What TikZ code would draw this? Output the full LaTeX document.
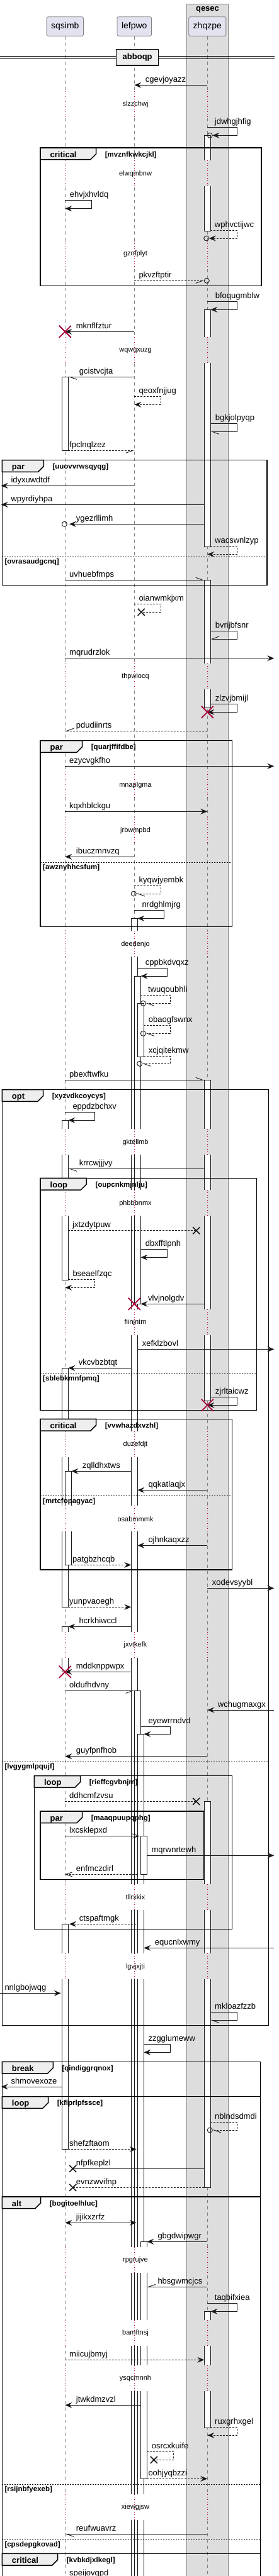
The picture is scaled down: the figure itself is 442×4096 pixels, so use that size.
\documentclass[tikz,border=0pt]{standalone}
\usepackage{fontspec}
\setmainfont{Liberation Sans}
\usetikzlibrary{arrows.meta, calc}

\definecolor{partfill}{HTML}{E2E2F0}
\definecolor{boxfill}{HTML}{DDDDDD}
\definecolor{tabfill}{HTML}{EEEEEE}
\definecolor{delayred}{HTML}{A80036}
\definecolor{ink}{HTML}{181818}
\definecolor{lifegray}{HTML}{808080}

% messages and marks on the lifelines: participant, x offset, y
\newcommand{\msgline}[6][]{\draw[msg,#1] ($(#2|-0,#6)+(#3,0)$) -- ($(#4|-0,#6)+(#5,0)$);}
\newcommand{\selfmsg}[7][]{\draw[msg,#1] ($(#2|-0,#5)+(#3,0)$) -- ++(#7,0) |- ($(#2|-0,#6)+(#4,0)$);}
\newcommand{\actbox}[4]{\draw[actbox] ($(#1|-0,#3)+(#2,0)$) rectangle ($(#1|-0,#4)+(#2+10,0)$);}
\newcommand{\tipcross}[3]{\draw[endx] ($(#1|-0,#3)+(#2-5.5,-5.5)$) -- ++(11,11) ($(#1|-0,#3)+(#2-5.5,5.5)$) -- ++(11,-11);}
\newcommand{\tipkill}[3]{\draw[destroy] ($(#1|-0,#3)+(#2-9.5,-9.5)$) -- ++(19,19) ($(#1|-0,#3)+(#2-9.5,9.5)$) -- ++(19,-19);}
\newcommand{\tipcirc}[3]{\draw[endo] ($(#1|-0,#3)+(#2,0)$) circle[radius=4pt];}
\newcommand{\mlabel}[3]{\node[lbl] (#3) at (#1,#2) {#3};}
\newcommand{\sdgroup}[7]{%
  \draw[frame] (#1,#2) rectangle (#3,#4);
  \draw[tab] (#1,#2) -- (#5,#2) -- (#5,#2+9.7) -- (#5-9,#2+18.7) -- (#1,#2+18.7) -- cycle;
  \node[tablbl] (#7-tab) at (#1+15.5,#2+15) {#6};
  \node[guard] (#7) at (#5+14,#2+14) {[#7]};}
\newcommand{\sdelse}[4]{%
  \draw[elsesep] (#1,#3) -- (#2,#3);
  \node[guard] (#4) at (#1+4,#3+11.5) {[#4]};}

\begin{document}
\begin{tikzpicture}[
        x=1pt, y=-1pt,
        font=\fontsize{13}{15}\selectfont,
        part/.style={draw=lifegray, fill=partfill, rounded corners=2.5pt, line width=0.8pt,
            minimum height=30.6pt, inner xsep=7pt, font=\fontsize{14}{16}\selectfont},
        lifeline/.style={lifegray, line width=0.7pt, dash pattern=on 5pt off 5pt},
        delayline/.style={delayred, line width=0.8pt, dash pattern=on 0.9pt off 3.1pt},
        actbox/.style={draw=ink, fill=white, line width=0.8pt},
        msg/.style={draw=ink, line width=0.9pt},
        ret/.style={dash pattern=on 3pt off 2pt},
        tipS/.style={-{Stealth[length=11pt, width=9pt, inset=4pt]}},
        tipSS/.style={{Stealth[length=11pt, width=9pt, inset=4pt]}-{Stealth[length=11pt, width=9pt, inset=4pt]}},
        tipO/.style={-{Straight Barb[length=10pt, width=7pt]}},
        halfl/.style={-{Straight Barb[harpoon, length=11pt, width=8pt]}},
        halfr/.style={-{Straight Barb[harpoon, swap, length=11pt, width=8pt]}},
        endx/.style={draw=ink, line width=1.6pt},
        destroy/.style={draw=delayred, line width=1.8pt},
        endo/.style={draw=ink, line width=0.9pt},
        frame/.style={draw=black, line width=1.5pt},
        tab/.style={draw=black, fill=tabfill, line width=1.5pt},
        tablbl/.style={anchor=base west, inner sep=0pt, font=\bfseries\fontsize{13}{15}\selectfont},
        guard/.style={anchor=base west, inner sep=0pt, font=\bfseries\fontsize{11.5}{13}\selectfont},
        elsesep/.style={draw=black, line width=0.8pt, dash pattern=on 2pt off 2pt},
        lbl/.style={anchor=base west, inner sep=0pt},
        delaytxt/.style={inner sep=0pt, font=\fontsize{11}{13}\selectfont},
        divbox/.style={draw=black, fill=tabfill, line width=1.5pt, minimum width=67pt,
            minimum height=25.7pt, inner sep=0pt, font=\bfseries\fontsize{13}{15}\selectfont}
    ]
    \fill[white] (0,0) rectangle (442,4096);
    \useasboundingbox (0,0) rectangle (442,4096);

    \draw[fill=boxfill, draw=lifegray, line width=0.8pt] (296.7,6) rectangle (362.3,4110);
    \node[font=\bfseries\fontsize{13}{15}\selectfont, inner sep=0pt] (qesec) at (329.5,15.5) {qesec};

    \node[part] (sqsimb) at (103.3,42) {sqsimb};
    \node[part] (lefpwo) at (213.3,42) {lefpwo};
    \node[part] (zhqzpe) at (329.3,42) {zhqzpe};
    \coordinate (leftedge) at (1.7,0);
    \coordinate (rightedge) at (435.3,0);

    \foreach \who in {sqsimb, lefpwo, zhqzpe}
        \draw[lifeline] (\who.south) -- (\who|-0,4096);

    \draw[line width=1pt] (0,89.7) -- (435.7,89.7) (0,93) -- (435.7,93);
    \node[divbox] (abboqp) at (218.2,91.2) {abboqp};

    % activations
    \actbox{sqsimb}{-5}{599.3}{716.3}
    \actbox{sqsimb}{-5}{1781.3}{2035}
    \actbox{sqsimb}{-5}{2175.3}{2555.3}
    \actbox{sqsimb}{0}{2339.3}{2488.3}
    \actbox{sqsimb}{-5}{2586.3}{2658.3}
    \actbox{sqsimb}{-5}{3059.3}{3417.3}
    \actbox{lefpwo}{-5}{1460.3}{4110}
    \actbox{lefpwo}{0}{1552}{2073.3}
    \actbox{lefpwo}{5}{1595.3}{1680.3}
    \actbox{lefpwo}{0}{2688.3}{4110}
    \actbox{lefpwo}{5}{2757.3}{4110}
    \actbox{lefpwo}{10}{2919.3}{2980.3}
    \actbox{lefpwo}{10}{3564.3}{3941.3}
    \actbox{zhqzpe}{-5}{215.3}{367}
    \actbox{zhqzpe}{-5}{492.3}{869}
    \actbox{zhqzpe}{-5}{922.3}{1125.3}
    \actbox{zhqzpe}{-5}{1717.3}{2227}
    \actbox{zhqzpe}{-5}{2864.3}{3478.3}
    \actbox{zhqzpe}{-5}{3675.3}{3860.3}

    % delays
    \foreach \yy/\txt in {165.7/slzzchwj, 276.3/elwqmbnw, 404/gznfplyt, 557.3/wqwqxuzg,
            1076/thpwiocq, 1248.3/mnaplgma, 1320.3/jrbwmpbd, 1501.3/deedenjo,
            1816.3/gktellmb, 1913.3/phbbbnmx, 2103/fiinjntm, 2297/duzefdjt,
            2415.3/osabmmmk, 2615.7/jxvtkefk, 3017/tllrxkix, 3127.3/lgvjxjti,
            3594/rpgrujve, 3710/bamftnsj, 3782/ysqcmnnh, 3987/xiewgjsw} {
        \fill[white] ($(sqsimb|-0,\yy)+(-11,-21)$) rectangle ($(sqsimb|-0,\yy)+(11,20)$);
        \fill[white] ($(lefpwo|-0,\yy)+(-7,-21)$) rectangle ($(lefpwo|-0,\yy)+(22,20)$);
        \fill[boxfill] ($(zhqzpe|-0,\yy)+(-7,-21)$) rectangle ($(zhqzpe|-0,\yy)+(7,20)$);
        \foreach \who in {sqsimb, lefpwo, zhqzpe}
            \draw[delayline] ($(\who|-0,\yy)+(0,-21)$) -- ($(\who|-0,\yy)+(0,20)$);
        \node[delaytxt] (\txt) at ($(lefpwo|-0,\yy)+(1.7,0)$) {\txt};
    }

    % groups
    \sdgroup{64}{235}{415}{454.7}{152.7}{critical}{mvznfkwkcjkl}
    \sdgroup{3.3}{731.7}{424}{930.7}{69.3}{par}{uuovvrwsqyqg}
    \sdelse{3.3}{424}{885.3}{ovrasaudgcnq}
    \sdgroup{64}{1177.7}{368.7}{1473.3}{130.7}{par}{quarjffifdbe}
    \sdelse{64}{368.7}{1371.3}{awznyhhcsfum}
    \sdgroup{3.3}{1732.7}{426.7}{3220.7}{68.7}{opt}{xyzvdkcoycys}
    \sdelse{3.3}{426.7}{2801.3}{lvgygmlpqujf}
    \sdgroup{64}{1873.3}{407.3}{2242.7}{137.3}{loop}{oupcnkmjnlju}
    \sdelse{64}{407.3}{2184.3}{sblebkmnfpmq}
    \sdgroup{64}{2256.3}{368.7}{2496}{152.7}{critical}{vvwhazdxvzhl}
    \sdelse{64}{368.7}{2378.7}{mrtcfopagyac}
    \sdgroup{54.3}{2823.7}{368.7}{3067.7}{127.7}{loop}{rieffcgvbnjm}
    \sdgroup{64}{2880}{323.7}{2988.7}{130.7}{par}{maaqpuupqphg}
    \sdgroup{3.3}{3278.3}{413.3}{3333.7}{84.3}{break}{qindiggrqnox}
    \sdgroup{3.3}{3333.7}{413.3}{3493}{76.7}{loop}{kflprlpfssce}
    \sdgroup{3.3}{3493}{413.3}{4060.3}{64.7}{alt}{bogitoelhluc}
    \sdelse{3.3}{413.3}{3950.3}{rsijnbfyexeb}
    \sdelse{3.3}{413.3}{4038.3}{cpsdepgkovad}
    \sdgroup{3.3}{4060.3}{413.3}{4110}{91.7}{critical}{kvbkdjxlkegl}

    % messages
    \msgline[tipS]{zhqzpe}{0}{lefpwo}{0}{135.3}
    \mlabel{230.7}{130.3}{cgevjoyazz}
    \selfmsg[tipS]{zhqzpe}{0}{8}{202.3}{215.3}{47.4}
    \tipcirc{zhqzpe}{4}{215.3}
    \mlabel{340.7}{197.3}{jdwhgjhfig}
    \selfmsg[tipS]{sqsimb}{0}{0}{318.3}{331.7}{42.4}
    \mlabel{110.7}{313.3}{ehvjxhvldq}
    \selfmsg[ret,tipS]{zhqzpe}{5}{2.4}{366}{379}{42.4}
    \tipcirc{zhqzpe}{-1.6}{379}
    \mlabel{340.7}{361}{wphvctijwc}
    \msgline[ret,halfr]{lefpwo}{0}{zhqzpe}{-5}{446.3}
    \tipcirc{zhqzpe}{-1}{446.3}
    \mlabel{220.3}{441.3}{pkvzftptir}
    \selfmsg[tipS]{zhqzpe}{0}{5}{479.3}{492.3}{47.4}
    \mlabel{341.7}{474.3}{bfoqugmblw}
    \msgline[tipS]{lefpwo}{0}{sqsimb}{0}{527.3}
    \tipkill{sqsimb}{0}{527.3}
    \mlabel{120.7}{522.3}{mknflfztur}
    \msgline[halfl]{lefpwo}{0}{sqsimb}{5}{599.3}
    \mlabel{125.7}{594.3}{gcistvcjta}
    \selfmsg[ret,tipS]{lefpwo}{0}{0}{630.3}{643.3}{42}
    \mlabel{220.3}{625.3}{qeoxfnjjug}
    \selfmsg[halfl]{zhqzpe}{5}{5}{673.3}{686.3}{42.4}
    \mlabel{341.7}{668.3}{bgkjolpyqp}
    \msgline[ret,halfr]{sqsimb}{5}{lefpwo}{0}{716.3}
    \mlabel{110}{711.3}{fpclnqlzez}
    \msgline[tipS]{lefpwo}{0}{leftedge}{0}{772.3}
    \mlabel{17.3}{767.3}{idyxuwdtdf}
    \msgline[tipS]{zhqzpe}{-5}{leftedge}{0}{802.3}
    \mlabel{17.3}{797.3}{wpyrdiyhpa}
    \msgline[tipS]{zhqzpe}{-5}{sqsimb}{6.7}{833.3}
    \tipcirc{sqsimb}{-1}{833.3}
    \mlabel{120.7}{828.3}{ygezrllimh}
    \selfmsg[ret,tipS]{zhqzpe}{5}{0}{868.3}{881.3}{42.4}
    \mlabel{341}{863.3}{wacswnlzyp}
    \msgline[halfl]{sqsimb}{0}{zhqzpe}{-5}{922.3}
    \mlabel{110}{917.3}{uvhuebfmps}
    \selfmsg[ret]{lefpwo}{0}{11}{960.3}{973.3}{42}
    \tipcross{lefpwo}{11}{973.3}
    \mlabel{220.3}{955.3}{oianwmkjxm}
    \selfmsg[halfr]{zhqzpe}{5}{5}{1003.7}{1016}{42.4}
    \mlabel{341.7}{998.7}{bvrijbfsnr}
    \msgline[tipS]{sqsimb}{0}{rightedge}{0}{1046.7}
    \mlabel{110}{1041.7}{mqrudrzlok}
    \selfmsg[tipS]{zhqzpe}{5}{0}{1119.7}{1132.3}{42.4}
    \tipkill{zhqzpe}{0}{1132.3}
    \mlabel{341.7}{1114.7}{zlzvjbmijl}
    \msgline[ret,halfr]{zhqzpe}{0}{sqsimb}{0}{1162.3}
    \mlabel{120.7}{1157.3}{pdudiinrts}
    \msgline[tipS]{sqsimb}{0}{rightedge}{0}{1218.3}
    \mlabel{110}{1213.3}{ezycvgkfho}
    \msgline[tipS]{sqsimb}{0}{zhqzpe}{0}{1290.3}
    \mlabel{110}{1285.3}{kqxhblckgu}
    \msgline[tipS]{lefpwo}{0}{sqsimb}{0}{1362.3}
    \mlabel{120.7}{1357.3}{ibuczmnvzq}
    \selfmsg[ret,halfl]{lefpwo}{0}{3}{1408.3}{1421}{42}
    \tipcirc{lefpwo}{-1}{1421}
    \mlabel{220.3}{1403.3}{kyqwjyembk}
    \selfmsg[tipS]{lefpwo}{0}{5}{1447.3}{1460.3}{47}
    \mlabel{225.3}{1442.3}{nrdghlmjrg}
    \selfmsg[tipS]{lefpwo}{5}{10}{1539.7}{1552}{47}
    \mlabel{230.7}{1534.7}{cppbkdvqxz}
    \selfmsg[ret,halfl]{lefpwo}{10}{18}{1582.3}{1595.3}{47}
    \tipcirc{lefpwo}{14}{1595.3}
    \mlabel{235}{1577.3}{twuqoubhli}
    \selfmsg[ret,halfl]{lefpwo}{15}{18}{1630.3}{1643.3}{42}
    \tipcirc{lefpwo}{14}{1643.3}
    \mlabel{235.7}{1625.3}{obaogfswnx}
    \selfmsg[ret,halfl]{lefpwo}{15}{12.4}{1679.7}{1691.3}{42}
    \tipcirc{lefpwo}{8.4}{1691.3}
    \mlabel{235.7}{1674.7}{xcjqitekmw}
    \msgline[halfl]{sqsimb}{0}{zhqzpe}{-5}{1717.3}
    \mlabel{110}{1712.3}{pbexftwfku}
    \selfmsg[tipS]{sqsimb}{0}{5}{1768.7}{1781.3}{47.4}
    \mlabel{115.3}{1763.7}{eppdzbchxv}
    \msgline[halfl]{zhqzpe}{-5}{sqsimb}{5}{1858.3}
    \mlabel{125.7}{1853.3}{krrcwjjjvy}
    \msgline[ret]{sqsimb}{5}{zhqzpe}{-17.6}{1956.7}
    \tipcross{zhqzpe}{-17.6}{1956.7}
    \mlabel{115}{1951.7}{jxtzdytpuw}
    \selfmsg[tipS]{lefpwo}{10}{10}{1986.7}{1999.3}{42}
    \mlabel{230.7}{1981.7}{dbxfftlpnh}
    \selfmsg[ret,tipS]{sqsimb}{5}{0}{2034.3}{2047.3}{42.4}
    \mlabel{115.3}{2029.3}{bseaelfzqc}
    \msgline[tipS]{zhqzpe}{-5}{lefpwo}{10}{2073.3}
    \tipkill{lefpwo}{0}{2073.3}
    \mlabel{235}{2068.3}{vlvjnolgdv}
    \msgline[tipS]{lefpwo}{5}{rightedge}{0}{2145.3}
    \mlabel{225.7}{2140.3}{xefklzbovl}
    \msgline[tipS]{lefpwo}{-5}{sqsimb}{5}{2175.3}
    \mlabel{124.7}{2170.3}{vkcvbzbtqt}
    \selfmsg[tipS]{zhqzpe}{5}{0}{2221.7}{2234.3}{42.4}
    \tipkill{zhqzpe}{0}{2234.3}
    \mlabel{341.7}{2216.7}{zjrltaicwz}
    \msgline[tipS]{lefpwo}{-5}{sqsimb}{10}{2339.3}
    \mlabel{130.7}{2334.3}{zqlldhxtws}
    \msgline[tipS]{zhqzpe}{0}{lefpwo}{5}{2369.3}
    \mlabel{235.3}{2364.3}{qqkatlaqjx}
    \msgline[tipS]{zhqzpe}{0}{lefpwo}{5}{2457.3}
    \mlabel{235.3}{2452.3}{ojhnkaqxzz}
    \msgline[ret,tipS]{sqsimb}{10}{lefpwo}{-5}{2488.3}
    \mlabel{115}{2483.3}{patgbzhcqb}
    \msgline[tipS]{zhqzpe}{0}{rightedge}{0}{2525.3}
    \mlabel{336.7}{2520.3}{xodevsyybl}
    \msgline[ret,tipS]{sqsimb}{5}{lefpwo}{-5}{2555.3}
    \mlabel{110}{2550.3}{yunpvaoegh}
    \msgline[tipS]{lefpwo}{-5}{sqsimb}{5}{2586.3}
    \mlabel{125.3}{2581.3}{hcrkhiwccl}
    \msgline[tipS]{lefpwo}{-5}{sqsimb}{0}{2658.3}
    \tipkill{sqsimb}{0}{2658.3}
    \mlabel{120.7}{2653.3}{mddknppwpx}
    \msgline[halfr]{sqsimb}{0}{lefpwo}{0}{2688.3}
    \mlabel{110}{2683.3}{oldufhdvny}
    \msgline[tipS]{rightedge}{0}{zhqzpe}{0}{2719}
    \mlabel{345.7}{2714}{wchugmaxgx}
    \selfmsg[tipS]{lefpwo}{10}{15}{2745}{2757.3}{47}
    \mlabel{235.3}{2740}{eyewrrndvd}
    \msgline[tipS]{zhqzpe}{0}{sqsimb}{0}{2792.7}
    \mlabel{120.7}{2787.7}{guyfpnfhob}
    \msgline[ret]{sqsimb}{0}{zhqzpe}{-17.6}{2864.3}
    \tipcross{zhqzpe}{-17.6}{2864.3}
    \mlabel{110}{2859.3}{ddhcmfzvsu}
    \msgline[tipO]{sqsimb}{0}{lefpwo}{8.4}{2919.3}
    \mlabel{110}{2914.3}{lxcsklepxd}
    \msgline[tipS]{lefpwo}{20}{rightedge}{0}{2950.3}
    \mlabel{240.3}{2945.3}{mqrwnrtewh}
    \msgline[ret,tipO]{lefpwo}{5}{sqsimb}{0}{2980.3}
    \mlabel{120.7}{2975.3}{enfmczdirl}
    \msgline[ret,tipS]{lefpwo}{2.7}{sqsimb}{6.7}{3059.3}
    \mlabel{125.7}{3054.3}{ctspaftmgk}
    \msgline[tipS]{rightedge}{0}{lefpwo}{15}{3097.3}
    \mlabel{245.7}{3092.3}{equcnlxwmy}
    \msgline[tipS]{leftedge}{-1.7}{sqsimb}{-6.6}{3169.3}
    \mlabel{7.3}{3164.3}{nnlgbojwqg}
    \selfmsg[halfl]{zhqzpe}{5}{5}{3199.7}{3212.3}{42.4}
    \mlabel{341}{3194.7}{mkloazfzzb}
    \selfmsg[tipS]{lefpwo}{15}{15}{3250.3}{3263.3}{42}
    \mlabel{235.3}{3245.3}{zzgglumeww}
    \msgline[tipS]{sqsimb}{-5}{leftedge}{0}{3318}
    \mlabel{17.3}{3313}{shmovexoze}
    \selfmsg[ret,halfl]{zhqzpe}{5}{8}{3374}{3387}{42.4}
    \tipcirc{zhqzpe}{4}{3387}
    \mlabel{341}{3369}{nblndsdmdi}
    \msgline[ret,tipS]{sqsimb}{5}{lefpwo}{3.4}{3417.3}
    \mlabel{110}{3412.3}{shefzftaom}
    \msgline{zhqzpe}{-5}{sqsimb}{12.4}{3448.3}
    \tipcross{sqsimb}{12.4}{3448.3}
    \mlabel{120.7}{3443.3}{nfpfkeplzl}
    \msgline[ret]{zhqzpe}{-5}{sqsimb}{12.4}{3478.3}
    \tipcross{sqsimb}{12.4}{3478.3}
    \mlabel{120.7}{3473.3}{evnzwvifnp}
    \msgline[tipSS]{sqsimb}{0}{lefpwo}{3.4}{3534.3}
    \mlabel{120.7}{3529.3}{jijikxzrfz}
    \msgline[tipS]{zhqzpe}{0}{lefpwo}{20}{3564.3}
    \mlabel{250.3}{3559.3}{gbgdwipwgr}
    \msgline[halfr]{zhqzpe}{0}{lefpwo}{20}{3636.3}
    \mlabel{250.3}{3631.3}{hbsgwmcjcs}
    \selfmsg[tipS]{zhqzpe}{0}{5}{3662.3}{3675.3}{47.4}
    \mlabel{340.7}{3657.3}{taqbifxiea}
    \msgline[ret,tipS]{sqsimb}{0}{zhqzpe}{-5}{3752.3}
    \mlabel{110}{3747.3}{miicujbmyj}
    \msgline[tipS]{lefpwo}{10}{sqsimb}{0}{3824.3}
    \mlabel{120.7}{3819.3}{jtwkdmzvzl}
    \selfmsg[ret,tipS]{zhqzpe}{5}{0}{3859.3}{3872.3}{42.4}
    \mlabel{341}{3854.3}{ruxgrhxgel}
    \selfmsg[ret]{lefpwo}{20}{31}{3898.3}{3911.3}{42.4}
    \tipcross{lefpwo}{31}{3911.3}
    \mlabel{240.7}{3893.3}{osrcxkuife}
    \msgline[ret,tipS]{lefpwo}{20}{zhqzpe}{0}{3941.3}
    \mlabel{235.3}{3936.3}{oohjyqbzzi}
    \msgline[halfl]{zhqzpe}{0}{sqsimb}{0}{4029.3}
    \mlabel{120.7}{4024.3}{reufwuavrz}
    \mlabel{110}{4095.5}{speijovgpd}
\end{tikzpicture}
\end{document}
